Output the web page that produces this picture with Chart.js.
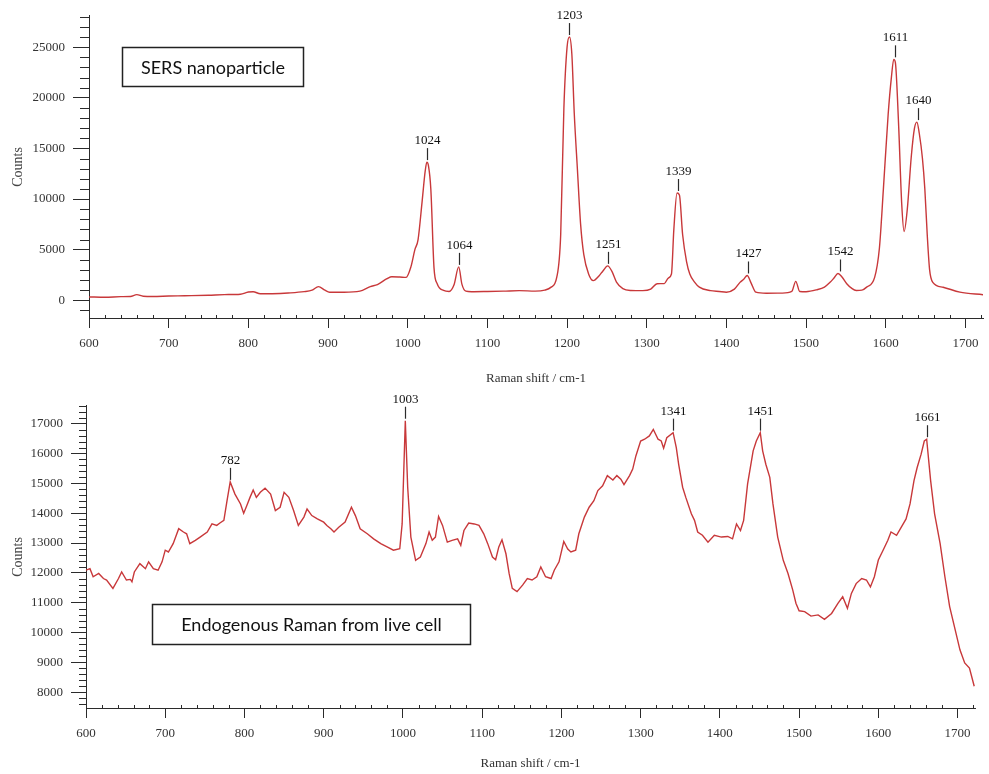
<!DOCTYPE html>
<html>
<head>
<meta charset="utf-8">
<script src="https://cdn.jsdelivr.net/npm/chart.js@4.4.0/dist/chart.umd.min.js"></script>
<style>
  body { margin: 0; background: #fff; }
  #wrap { position: relative; width: 989px; height: 774px; }
  canvas { position: absolute; left: 0; }
</style>
</head>
<body>
<div id="wrap">
  <canvas id="sersChart" width="989" height="390" style="top:0px"></canvas>
  <canvas id="cellChart" width="989" height="384" style="top:390px"></canvas>
</div>
<script>
// SERS nanoparticle spectrum
const shiftSers = [600, 620, 640, 652, 660, 668, 680, 700, 720, 750, 770, 790, 800, 806, 815, 830, 850, 870, 880, 888,
  896, 902, 920, 940, 953, 962, 974, 980, 990, 998, 1004, 1009, 1013, 1018, 1022, 1024, 1026, 1029, 1033, 1037,
  1045, 1052, 1058, 1064, 1068, 1073, 1080, 1100, 1120, 1140, 1160, 1172, 1180, 1187, 1192, 1196, 1200, 1203, 1206, 1209,
  1213, 1217, 1221, 1227, 1233, 1240, 1245, 1251, 1256, 1262, 1270, 1280, 1295, 1305, 1313, 1322, 1327, 1331, 1334, 1338,
  1341, 1345, 1350, 1354, 1360, 1366, 1380, 1391, 1400, 1410, 1417, 1422, 1426, 1431, 1437, 1450, 1470, 1482, 1487, 1492,
  1500, 1513, 1523, 1530, 1535, 1540, 1545, 1551, 1557, 1563, 1570, 1576, 1586, 1592, 1597, 1603, 1607, 1610, 1612, 1616,
  1620, 1623, 1627, 1632, 1636, 1639, 1642, 1646, 1649, 1652, 1655, 1659, 1672, 1693, 1722];
const countsSers = [330, 300, 360, 380, 560, 400, 380, 420, 450, 500, 560, 600, 820, 850, 640, 650, 720, 850, 1000, 1350,
  1000, 800, 800, 900, 1350, 1550, 2130, 2330, 2300, 2260, 3300, 5000, 6000, 9700, 12800, 13650, 13300, 11000, 3200, 1640,
  970, 870, 1500, 3300, 1600, 900, 850, 870, 900, 950, 900, 1000, 1300, 2260, 6500, 19000, 25000, 26000, 24300, 18500,
  12900, 7500, 4500, 2600, 1940, 2400, 2900, 3400, 2900, 1800, 1150, 970, 950, 1100, 1640, 1650, 2200, 2600, 7000, 10600,
  10400, 6500, 3800, 2600, 1800, 1300, 950, 870, 800, 1100, 1770, 2100, 2450, 1700, 800, 700, 710, 870, 1870, 870,
  850, 1030, 1300, 1770, 2200, 2650, 2300, 1640, 1200, 970, 1000, 1300, 2260, 5170, 11000, 18400, 22000, 23800, 23500, 17500,
  9500, 6800, 9000, 14200, 17000, 17600, 16500, 14000, 11000, 6500, 3000, 1770, 1290, 800, 550];
const peaksSers = [1024, 1064, 1203, 1251, 1339, 1427, 1542, 1611, 1640];
const yTicksSers = [0, 5000, 10000, 15000, 20000, 25000];

// endogenous Raman from live cell
const shiftCell = [600, 605, 609, 616, 622, 626, 634, 641, 645, 651, 656, 658, 661, 668, 675, 679, 685, 691, 696, 700,
  704, 710, 717, 723, 727, 731, 738, 744, 753, 759, 765, 769, 774, 778, 782, 788, 795, 799, 803, 807,
  811, 815, 820, 826, 833, 839, 845, 850, 856, 862, 868, 875, 879, 885, 892, 900, 904, 909, 913, 919,
  927, 935, 940, 946, 955, 963, 972, 980, 988, 996, 999, 1003, 1006, 1010, 1016, 1022, 1029, 1033, 1037, 1041,
  1045, 1050, 1056, 1062, 1069, 1073, 1077, 1083, 1090, 1096, 1102, 1107, 1113, 1117, 1121, 1125, 1130, 1134, 1138, 1144,
  1151, 1157, 1163, 1169, 1174, 1180, 1187, 1191, 1197, 1203, 1208, 1212, 1218, 1222, 1229, 1235, 1241, 1246, 1252, 1258,
  1265, 1270, 1275, 1279, 1286, 1290, 1294, 1300, 1305, 1311, 1316, 1322, 1326, 1329, 1333, 1341, 1345, 1348, 1353, 1357,
  1364, 1368, 1372, 1378, 1385, 1393, 1402, 1410, 1416, 1421, 1426, 1430, 1435, 1442, 1446, 1451, 1454, 1458, 1463, 1467,
  1473, 1480, 1486, 1492, 1496, 1500, 1507, 1515, 1524, 1532, 1541, 1549, 1555, 1561, 1566, 1572, 1579, 1585, 1590, 1595,
  1600, 1606, 1612, 1616, 1623, 1629, 1635, 1640, 1645, 1649, 1654, 1658, 1661, 1666, 1671, 1678, 1684, 1690, 1697, 1703,
  1709, 1715, 1721];
const countsCell = [12090, 12140, 11870, 11980, 11810, 11760, 11480, 11810, 12030, 11760, 11780, 11700, 12030, 12310, 12140, 12370, 12140, 12090, 12370, 12760,
  12700, 12980, 13480, 13370, 13310, 12980, 13090, 13200, 13370, 13640, 13590, 13670, 13760, 14420, 15050, 14640, 14310, 14000, 14260, 14530,
  14780, 14530, 14700, 14840, 14640, 14090, 14200, 14700, 14530, 14090, 13590, 13870, 14140, 13920, 13810, 13700, 13590, 13480, 13370, 13530,
  13700, 14200, 13920, 13480, 13310, 13140, 12980, 12870, 12760, 12810, 13640, 17100, 14870, 13200, 12420, 12530, 12980, 13370, 13090, 13200,
  13890, 13590, 13030, 13090, 13140, 12920, 13420, 13670, 13640, 13590, 13310, 12980, 12530, 12440, 12870, 13110, 12640, 11980, 11480, 11370,
  11590, 11810, 11760, 11870, 12200, 11870, 11810, 12090, 12370, 13050, 12800, 12700, 12760, 13310, 13870, 14200, 14420, 14760, 14920, 15260,
  15110, 15260, 15140, 14960, 15260, 15480, 15920, 16420, 16480, 16590, 16810, 16480, 16420, 16180, 16530, 16700, 16200, 15640, 14870, 14530,
  13980, 13760, 13370, 13260, 13030, 13260, 13200, 13220, 13140, 13640, 13420, 13760, 14980, 16090, 16420, 16700, 16090, 15640, 15200, 14310,
  13200, 12420, 11980, 11420, 10980, 10730, 10700, 10550, 10590, 10440, 10640, 10980, 11200, 10810, 11310, 11640, 11810, 11760, 11530, 11870,
  12430, 12760, 13090, 13370, 13260, 13530, 13810, 14310, 15090, 15530, 15980, 16420, 16480, 15090, 13980, 12980, 11870, 10870, 10090, 9420,
  8980, 8810, 8200];
const peaksCell = [782, 1003, 1341, 1451, 1661];
const yTicksCell = [8000, 9000, 10000, 11000, 12000, 13000, 14000, 15000, 16000, 17000];

const xTicks = [600, 700, 800, 900, 1000, 1100, 1200, 1300, 1400, 1500, 1600, 1700];

const serif = "'Liberation Serif', 'DejaVu Serif', serif";
const inkColor = "#2b2b2b";
const lineRed = "#c8383a";

// short minor ticks along both axes
const minorTicks = {
  id: "minorTicks",
  afterDraw(chart, args, opts) {
    const { ctx, chartArea } = chart;
    const xs = chart.scales.x, ys = chart.scales.y;
    ctx.save();
    ctx.strokeStyle = inkColor;
    ctx.lineWidth = 1;
    ctx.beginPath();
    for (let v = Math.ceil(xs.min / opts.xStep) * opts.xStep; v <= xs.max; v += opts.xStep) {
      if (v % opts.xMajor === 0) continue;
      const px = Math.round(xs.getPixelForValue(v)) + 0.5;
      ctx.moveTo(px, chartArea.bottom);
      ctx.lineTo(px, chartArea.bottom - opts.xLen);
    }
    for (let v = Math.ceil(ys.min / opts.yStep) * opts.yStep; v <= ys.max; v += opts.yStep) {
      if (v % opts.yMajor === 0) continue;
      const py = Math.round(ys.getPixelForValue(v)) + 0.5;
      ctx.moveTo(chartArea.left, py);
      ctx.lineTo(chartArea.left - opts.yLen, py);
    }
    ctx.stroke();
    ctx.restore();
  }
};

// peak position labels with a small marker line
const peakLabels = {
  id: "peakLabels",
  afterDatasetsDraw(chart, args, opts) {
    const { ctx } = chart;
    const xs = chart.scales.x, ys = chart.scales.y;
    const pts = chart.data.datasets[0].data;
    ctx.save();
    ctx.strokeStyle = inkColor;
    ctx.fillStyle = "#111";
    ctx.lineWidth = 1.2;
    ctx.font = "13px " + serif;
    ctx.textAlign = "center";
    ctx.textBaseline = "alphabetic";
    opts.peaks.forEach((p) => {
      let best = null;
      pts.forEach((pt) => {
        if (Math.abs(pt.x - p) <= 4 && (!best || pt.y > best.y)) best = pt;
      });
      const px = Math.round(xs.getPixelForValue(p)) + 0.5;
      const py = ys.getPixelForValue(best.y);
      ctx.beginPath();
      ctx.moveTo(px, py - 2);
      ctx.lineTo(px, py - 14);
      ctx.stroke();
      ctx.fillText(String(p), px, py - 18);
    });
    ctx.restore();
  }
};

// framed caption inside the plot
const captionBox = {
  id: "captionBox",
  afterDraw(chart, args, opts) {
    const { ctx } = chart;
    const xs = chart.scales.x, ys = chart.scales.y;
    const l = Math.round(xs.getPixelForValue(opts.x0)) + 0.5;
    const r = Math.round(xs.getPixelForValue(opts.x1)) + 0.5;
    const t = Math.round(ys.getPixelForValue(opts.y0)) + 0.5;
    const b = Math.round(ys.getPixelForValue(opts.y1)) + 0.5;
    ctx.save();
    ctx.strokeStyle = "#222";
    ctx.lineWidth = 1.5;
    ctx.strokeRect(l, t, r - l, b - t);
    ctx.fillStyle = "#111";
    ctx.font = "18px Lato, 'Open Sans', sans-serif";
    ctx.textAlign = "center";
    ctx.textBaseline = "middle";
    ctx.fillText(opts.text, (l + r) / 2, (t + b) / 2 + 1);
    ctx.restore();
  }
};

function makeSpectrum(canvasId, shift, counts, s) {
  const ctx = document.getElementById(canvasId).getContext("2d");
  return new Chart(ctx, {
    type: "line",
    data: {
      datasets: [{
        data: shift.map((x, i) => ({ x: x, y: counts[i] })),
        borderColor: lineRed,
        borderWidth: 1.4,
        pointRadius: 0,
        tension: s.tension,
        cubicInterpolationMode: s.mode,
        fill: false
      }]
    },
    options: {
      responsive: false,
      animation: false,
      devicePixelRatio: 1,
      layout: { padding: { top: s.padTop, right: s.padRight, left: 0, bottom: 0 } },
      scales: {
        x: {
          type: "linear",
          min: 600,
          max: 1722,
          afterBuildTicks: (scale) => { scale.ticks = xTicks.map((v) => ({ value: v })); },
          afterFit: (scale) => { scale.height = s.xHeight; },
          border: { display: true, color: inkColor, width: 1 },
          grid: { drawOnChartArea: false, drawTicks: true, tickLength: 10, color: inkColor },
          ticks: {
            autoSkip: false, maxRotation: 0, padding: 8,
            callback: (v) => String(v),
            color: "#333", font: { family: serif, size: 13 }
          },
          title: {
            display: true, text: "Raman shift / cm-1", color: "#333",
            font: { family: serif, size: 13 }, padding: s.titlePad
          }
        },
        y: {
          min: s.yMin,
          max: s.yMax,
          afterBuildTicks: (scale) => { scale.ticks = s.yTicks.map((v) => ({ value: v })); },
          afterFit: (scale) => { scale.width = s.yWidth; },
          border: { display: true, color: inkColor, width: 1 },
          grid: { drawOnChartArea: false, drawTicks: true, tickLength: s.yTick, color: inkColor },
          ticks: {
            autoSkip: false, padding: 8,
            callback: (v) => String(v),
            color: "#333", font: { family: serif, size: 13 }
          },
          title: {
            display: true, text: "Counts", color: "#444",
            font: { family: serif, size: 14 }, padding: 10
          }
        }
      },
      plugins: {
        legend: { display: false },
        tooltip: { enabled: false },
        minorTicks: { xStep: 20, xMajor: 100, xLen: 3, yStep: s.yMinor, yMajor: s.yMajor, yLen: s.yMinorLen },
        peakLabels: { peaks: s.peaks },
        captionBox: s.box
      }
    },
    plugins: [minorTicks, peakLabels, captionBox]
  });
}

makeSpectrum("sersChart", shiftSers, countsSers, {
  tension: 0.4, mode: "monotone",
  padTop: 10, padRight: 6, xHeight: 72, yWidth: 89, titlePad: 4,
  yMin: -1750, yMax: 28100, yTicks: yTicksSers, yMajor: 5000, yMinor: 1000, yTick: 16, yMinorLen: 9,
  peaks: peaksSers,
  box: { text: "SERS nanoparticle", x0: 642, x1: 868, y0: 25000, y1: 21200 }
});

makeSpectrum("cellChart", shiftCell, countsCell, {
  tension: 0, mode: "default",
  padTop: 13, padRight: 14, xHeight: 66, yWidth: 86, titlePad: 3,
  yMin: 7470, yMax: 17600, yTicks: yTicksCell, yMajor: 1000, yMinor: 200, yTick: 15, yMinorLen: 7,
  peaks: peaksCell,
  box: { text: "Endogenous Raman from live cell", x0: 683, x1: 1085, y0: 10970, y1: 9600 }
});
</script>
</body>
</html>
